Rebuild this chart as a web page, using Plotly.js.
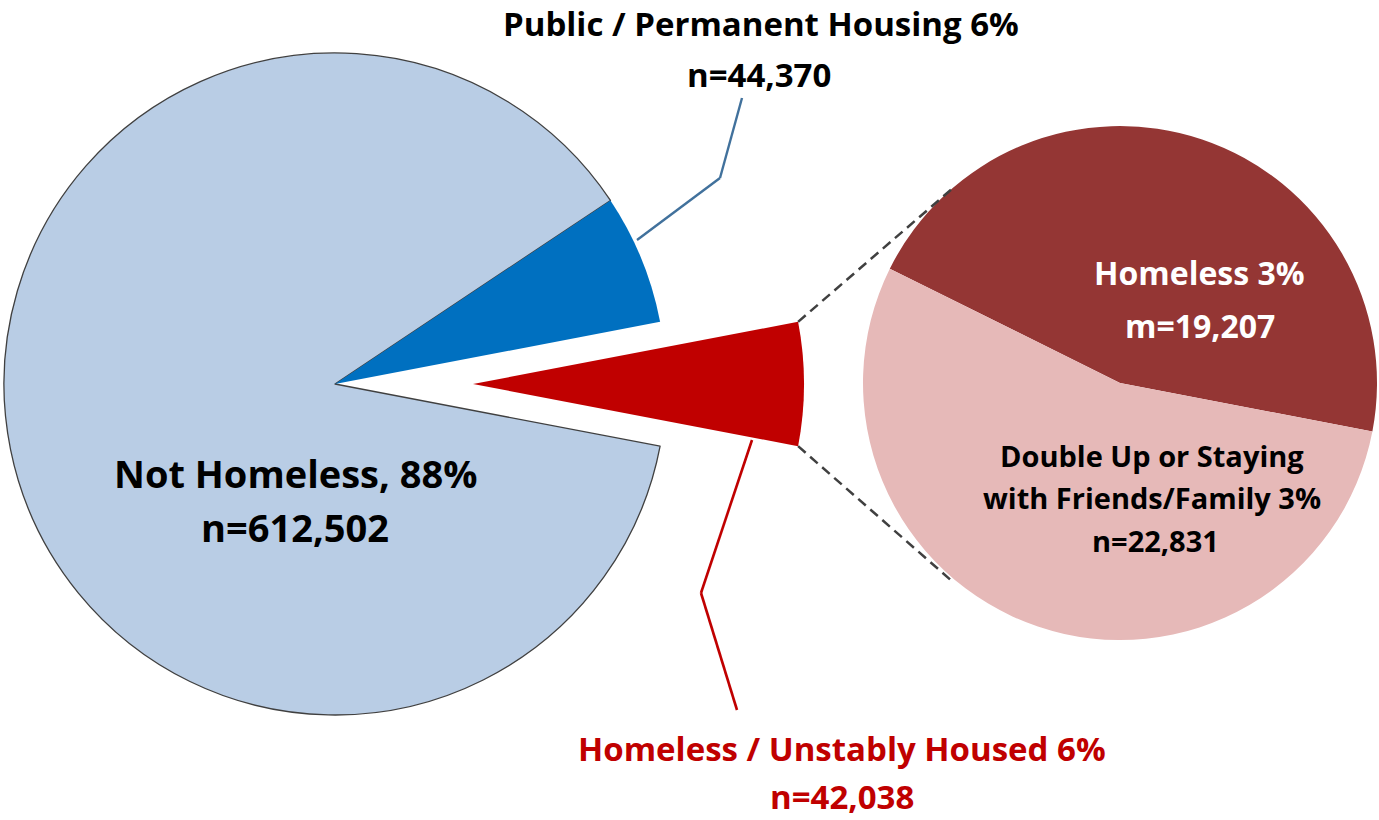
<!DOCTYPE html>
<html><head><meta charset="utf-8">
<script src="https://cdn.plot.ly/plotly-3.0.1.min.js"></script>
<style>html,body{margin:0;padding:0;background:#fff;overflow:hidden;} #chart{width:1379px;height:820px;}</style>
</head><body><div id="chart"></div>
<script>
// ---- data ----
const mainLabels = ['Homeless / Unstably Housed', 'Not Homeless', 'Public / Permanent Housing'];
const mainValues = [42038, 612502, 44370];
const mainPercents = ['6%', '88%', '6%'];
const subLabels = ['Homeless', 'Double Up or Staying with Friends/Family'];
const subValues = [19207, 22831];
const subPercents = ['3%', '3%'];
const subPrefix = ['m=', 'n='];

// ---- layout helpers ----
const W = 1379, H = 820;
function dom(cx, cy, r) { return {x: [(cx - r) / W, (cx + r) / W], y: [1 - (cy + r) / H, 1 - (cy - r) / H]}; }
function px(x) { return x / W; }
function py(y) { return 1 - y / H; }
const fmt = v => v.toLocaleString('en-US');

const total = mainValues.reduce((a, b) => a + b, 0);
const redHalfDeg = 180 * mainValues[0] / total;
const mainRot = 90 - redHalfDeg;

const L = {cx: 335, cy: 384, r: 331};
const pullX = 138;
const R = {cx: 1120, cy: 383, r: 257};

const FONT = '"Open Sans", Lato, sans-serif';

const traces = [
  { type: 'pie', values: mainValues, labels: mainLabels, sort: false, direction: 'clockwise',
    rotation: mainRot, domain: dom(L.cx, L.cy, L.r), textinfo: 'none', hoverinfo: 'none', showlegend: false,
    marker: { colors: ['rgba(0,0,0,0)', '#B9CDE5', '#0070C0'],
              line: { color: ['rgba(0,0,0,0)', '#404040', 'rgba(0,0,0,0)'], width: [0, 1.3, 0] } } },
  { type: 'pie', values: mainValues, labels: mainLabels, sort: false, direction: 'clockwise',
    rotation: mainRot, domain: dom(L.cx + pullX, L.cy, L.r), textinfo: 'none', hoverinfo: 'none', showlegend: false,
    marker: { colors: ['#C00000', 'rgba(0,0,0,0)', 'rgba(0,0,0,0)'], line: { width: 0 } } },
  { type: 'pie', values: subValues, labels: subLabels, sort: false, direction: 'clockwise',
    rotation: -63.6, domain: dom(R.cx, R.cy, R.r), textinfo: 'none', hoverinfo: 'none', showlegend: false,
    marker: { colors: ['#943634', '#E6B9B8'], line: { width: 0 } } }
];

// corners of the pulled-out slice
const hr = redHalfDeg * Math.PI / 180;
const tipX = L.cx + pullX;
const upC = [tipX + L.r * Math.cos(hr), L.cy - L.r * Math.sin(hr)];
const loC = [tipX + L.r * Math.cos(hr), L.cy + L.r * Math.sin(hr)];

function seg(x0, y0, x1, y1, color, width, dash) {
  return { type: 'line', xref: 'paper', yref: 'paper', x0: px(x0), y0: py(y0), x1: px(x1), y1: py(y1),
           line: { color: color, width: width, dash: dash || 'solid' } };
}
const shapes = [
  seg(upC[0], upC[1], 953, 188, '#404040', 2.5, '10px,6px'),
  seg(loC[0], loC[1], 953, 582, '#404040', 2.5, '10px,6px'),
  seg(637, 240, 720, 178, '#41719C', 2.4),
  seg(720, 178, 742, 98, '#41719C', 2.4),
  seg(752, 440, 701, 593, '#C00000', 2.6),
  seg(701, 593, 737, 710, '#C00000', 2.6)
];

function ann(text, x, y, size, color) {
  return { text: text, xref: 'paper', yref: 'paper', x: px(x), y: py(y), xanchor: 'center', yanchor: 'middle',
           showarrow: false, borderpad: 0, font: { family: FONT, size: size, color: color, weight: 'bold' } };
}
const annotations = [
  ann(mainLabels[2] + ' ' + mainPercents[2], 761, 23, 33, '#000'),
  ann('n=' + fmt(mainValues[2]), 759, 75, 33, '#000'),
  ann(mainLabels[1] + ', ' + mainPercents[1], 295, 473, 38, '#000'),
  ann('n=' + fmt(mainValues[1]), 295, 527, 38, '#000'),
  ann(mainLabels[0] + ' ' + mainPercents[0], 842, 748, 33, '#C00000'),
  ann('n=' + fmt(mainValues[0]), 842, 796, 33, '#C00000'),
  ann(subLabels[0] + ' ' + subPercents[0], 1199, 272, 32, '#fff'),
  ann(subPrefix[0] + fmt(subValues[0]), 1200, 325, 32, '#fff'),
  ann('Double Up or Staying', 1152, 455, 29, '#000'),
  ann('with Friends/Family ' + subPercents[1], 1152, 497, 29, '#000'),
  ann(subPrefix[1] + fmt(subValues[1]), 1155, 540, 29, '#000')
];

const layout = {
  width: W, height: H, margin: { l: 0, r: 0, t: 0, b: 0 },
  paper_bgcolor: '#fff', plot_bgcolor: '#fff', showlegend: false,
  shapes: shapes, annotations: annotations
};
Plotly.newPlot('chart', traces, layout, { staticPlot: true, displayModeBar: false });
</script>
</body></html>
